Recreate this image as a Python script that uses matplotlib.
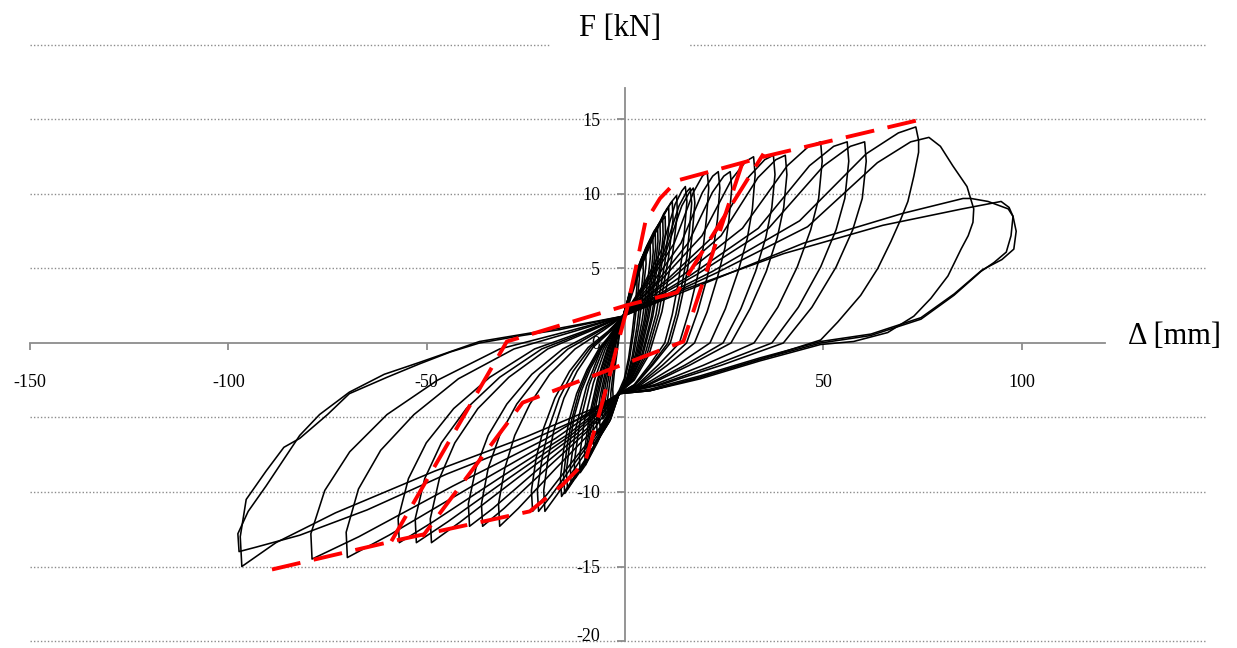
import matplotlib
matplotlib.use("Agg")
import matplotlib.pyplot as plt
from matplotlib.transforms import ScaledTranslation

plt.rcParams['font.family'] = ['Liberation Serif', 'DejaVu Serif']
plt.rcParams['axes.unicode_minus'] = False

# ---- axis ticks ----
x_ticks = [-150, -100, -50, 50, 100]
y_ticks = [20, 15, 10, 5, 0, -5, -10, -15, -20]
y_tick_labels = ['', '15', '10', '5', '0', '-5', '-10', '-15', '-20']

# ---- hysteresis cycles (displacement mm, force kN) ----
loop_s1 = [(-0.5, 1.8), (0.8, 3.0), (1.9, 3.9), (2.6, 4.3), (3.0, 4.5), (3.0, 3.8), (2.6, 2.6), (1.8, 0.7),
           (0.9, -1.0), (-0.2, -2.4), (-1.5, -3.2), (-2.2, -3.5), (-2.7, -3.6), (-3.0, -3.7), (-3.1, -3.1),
           (-2.7, -2.0), (-2.1, -0.8), (-1.5, 0.4), (-0.9, 1.2), (-0.5, 1.8)]
loop_s2 = [(-0.5, 1.8), (1.2, 3.4), (2.8, 4.7), (4.0, 5.4), (4.5, 5.6), (4.6, 4.8), (4.0, 3.3), (3.0, 1.1),
           (1.8, -0.9), (0.4, -2.4), (-1.5, -3.4), (-2.6, -3.9), (-3.5, -4.2), (-4.0, -4.4), (-4.3, -4.5),
           (-4.4, -3.8), (-3.8, -2.5), (-3.0, -1.1), (-2.1, 0.2), (-1.2, 1.1), (-0.5, 1.8)]
loop_s3 = [(-0.5, 1.8), (1.8, 3.9), (4.0, 5.6), (5.6, 6.5), (6.3, 6.8), (6.4, 5.8), (5.7, 4.1), (4.3, 1.5),
           (2.6, -0.8), (0.7, -2.4), (-1.5, -3.4), (-2.9, -4.1), (-4.3, -4.6), (-5.1, -4.9), (-5.6, -5.1),
           (-5.8, -4.4), (-5.0, -2.9), (-3.9, -1.4), (-2.6, 0.0), (-1.4, 1.0), (-0.5, 1.8)]
loop_s4 = [(-0.5, 1.8), (2.2, 4.1), (4.8, 6.0), (6.8, 7.1), (7.6, 7.4), (7.7, 6.4), (6.9, 4.5), (5.2, 1.6),
           (3.2, -0.8), (1.0, -2.4), (-1.5, -3.4), (-3.2, -4.3), (-5.2, -5.4), (-6.4, -5.9), (-7.0, -6.1),
           (-7.2, -5.3), (-6.3, -3.6), (-4.9, -1.8), (-3.2, -0.2), (-1.7, 1.0), (-0.5, 1.8)]
loop_s5 = [(-0.5, 1.8), (2.5, 4.4), (5.5, 6.5), (7.8, 7.7), (8.8, 8.1), (8.9, 7.0), (8.0, 4.9), (6.0, 1.7),
           (3.8, -0.8), (1.2, -2.5), (-1.5, -3.4), (-3.6, -4.7), (-6.2, -6.2), (-7.9, -7.0), (-8.8, -7.4),
           (-9.0, -6.5), (-7.9, -4.4), (-6.1, -2.3), (-4.0, -0.4), (-2.0, 1.0), (-0.5, 1.8)]
loop_s6 = [(-0.5, 1.8), (3.0, 4.6), (6.5, 6.8), (9.0, 8.1), (10.1, 8.5), (10.2, 7.4), (9.2, 5.2), (7.0, 1.8),
           (4.5, -0.8), (1.5, -2.5), (-1.5, -3.4), (-4.0, -5.0), (-7.0, -6.7), (-9.0, -7.7), (-10.0, -8.2),
           (-10.2, -7.2), (-9.0, -4.9), (-7.0, -2.5), (-4.5, -0.4), (-2.2, 1.0), (-0.5, 1.8)]
loop_s7 = [(-0.5, 1.8), (3.5, 4.8), (7.5, 7.4), (10.5, 9.0), (11.9, 9.5), (12.1, 8.3), (11.0, 5.8), (8.5, 2.0),
           (5.5, -0.8), (2.0, -2.5), (-1.5, -3.4), (-4.5, -5.2), (-8.5, -7.3), (-11.0, -8.5), (-12.6, -9.1),
           (-12.8, -8.0), (-11.5, -5.5), (-9.0, -2.8), (-5.5, -0.4), (-2.5, 1.0), (-0.5, 1.8)]
loop_s8 = [(-0.3, 1.6), (1.0, 3.3), (2.3, 4.4), (3.1, 4.9), (3.6, 5.1), (3.6, 4.3), (3.1, 2.9), (2.2, 0.8),
           (1.1, -1.1), (-0.1, -2.5), (-1.3, -3.3), (-2.4, -3.8), (-3.0, -4.0), (-3.5, -4.1), (-3.6, -3.4),
           (-3.1, -2.2), (-2.4, -0.9), (-1.6, 0.4), (-0.9, 1.1), (-0.3, 1.6)]
loop_s9 = [(-0.3, 1.6), (1.5, 3.7), (3.3, 5.1), (4.6, 5.9), (5.2, 6.2), (5.3, 5.3), (4.6, 3.6), (3.5, 1.2),
           (2.1, -0.9), (0.5, -2.4), (-1.3, -3.3), (-2.8, -4.1), (-3.9, -4.5), (-4.6, -4.7), (-5.0, -4.8),
           (-5.1, -4.1), (-4.4, -2.7), (-3.4, -1.2), (-2.3, 0.1), (-1.2, 1.0), (-0.3, 1.6)]
loop_s10 = [(-0.3, 1.6), (2.0, 4.0), (4.4, 5.8), (6.2, 6.8), (7.0, 7.1), (7.1, 6.1), (6.4, 4.3), (4.8, 1.5),
            (2.9, -0.8), (0.8, -2.4), (-1.3, -3.3), (-3.1, -4.2), (-4.8, -5.0), (-5.8, -5.4), (-6.3, -5.6),
            (-6.5, -4.9), (-5.7, -3.3), (-4.4, -1.6), (-2.9, -0.1), (-1.5, 1.0), (-0.3, 1.6)]
loop_s11 = [(-0.3, 1.6), (2.4, 4.3), (5.1, 6.3), (7.3, 7.5), (8.2, 7.8), (8.3, 6.8), (7.5, 4.7), (5.6, 1.6),
            (3.5, -0.8), (1.1, -2.4), (-1.3, -3.3), (-3.4, -4.5), (-5.6, -5.8), (-7.2, -6.5), (-8.0, -6.8),
            (-8.2, -6.0), (-7.2, -4.0), (-5.6, -2.1), (-3.6, -0.3), (-1.8, 1.0), (-0.3, 1.6)]
loop_s12 = [(-0.3, 1.6), (2.8, 4.5), (6.0, 6.7), (8.5, 8.0), (9.5, 8.3), (9.6, 7.2), (8.7, 5.0), (6.6, 1.7),
            (4.2, -0.8), (1.4, -2.5), (-1.3, -3.3), (-3.8, -4.8), (-6.6, -6.4), (-8.5, -7.4), (-9.4, -7.8),
            (-9.6, -6.9), (-8.5, -4.7), (-6.6, -2.4), (-4.3, -0.4), (-2.1, 1.0), (-0.3, 1.6)]
loop_s13 = [(-0.3, 1.6), (3.2, 4.7), (7.0, 7.1), (9.8, 8.7), (11.0, 9.1), (11.1, 8.0), (10.1, 5.5), (7.8, 1.9),
            (5.0, -0.8), (1.8, -2.5), (-1.3, -3.3), (-4.2, -5.1), (-7.8, -7.0), (-10.0, -8.2), (-11.3, -8.7),
            (-11.5, -7.7), (-10.3, -5.3), (-8.0, -2.7), (-5.0, -0.4), (-2.3, 1.0), (-0.3, 1.6)]
loop_s14 = [(-0.3, 1.6), (3.9, 5.0), (8.2, 7.8), (11.5, 9.4), (13.0, 9.9), (13.2, 8.7), (12.0, 6.0), (9.3, 2.1),
            (6.0, -0.8), (2.3, -2.5), (-1.3, -3.3), (-4.8, -5.4), (-9.2, -7.6), (-12.0, -8.8), (-13.6, -9.4),
            (-13.8, -8.3), (-12.4, -5.7), (-9.7, -2.9), (-6.0, -0.4), (-2.7, 1.0), (-0.3, 1.6)]

loop_c01 = [(-0.5, 1.8), (4.6, 3.9), (9.1, 6.2), (12.6, 9.3), (14.3, 10.2), (15.2, 10.5),
            (15.6, 9.5), (15.0, 7.6), (14.4, 5.9), (13.4, 4.0), (11.9, 1.9), (10.0, 0.0), (6.1, -1.5), (2.3, -2.8),
            (-1.5, -3.4), (-3.6, -5.1), (-8.0, -7.0), (-12.3, -8.9), (-14.5, -9.8),
            (-14.8, -8.6), (-13.9, -6.7), (-12.8, -4.9), (-11.0, -3.2), (-8.7, -1.7), (-5.8, -0.3), (-2.6, 0.8), (-0.5, 1.8)]
loop_c02 = [(-0.5, 1.8), (4.9, 3.9), (9.8, 6.1), (13.6, 9.2), (15.4, 10.1), (16.4, 10.4),
            (16.8, 9.4), (16.2, 7.5), (15.6, 5.8), (14.4, 4.0), (12.8, 1.9), (10.8, 0.0), (6.6, -1.5), (2.5, -2.8),
            (-1.5, -3.4), (-3.8, -5.2), (-8.4, -7.2), (-12.9, -9.2), (-15.2, -10.1),
            (-15.5, -8.9), (-14.6, -6.9), (-13.4, -5.1), (-11.6, -3.3), (-9.1, -1.7), (-6.1, -0.3), (-2.7, 0.8), (-0.5, 1.8)]
loop_c03 = [(-0.5, 1.8), (5.2, 3.9), (10.3, 6.1), (14.3, 9.2), (16.2, 10.1), (17.2, 10.4),
            (17.6, 9.4), (17.0, 7.5), (16.3, 5.8), (15.1, 4.0), (13.4, 1.9), (11.4, 0.0), (6.9, -1.5), (2.6, -2.8),
            (-1.5, -3.4), (-4.0, -5.3), (-8.8, -7.3), (-13.6, -9.3), (-16.0, -10.3),
            (-16.3, -9.1), (-15.4, -7.0), (-14.1, -5.2), (-12.2, -3.4), (-9.6, -1.8), (-6.4, -0.3), (-2.9, 0.8), (-0.5, 1.8)]
loop_c04 = [(-0.5, 1.8), (6.2, 4.1), (12.4, 6.7), (17.2, 10.1), (19.5, 11.2), (20.7, 11.5),
            (21.1, 10.4), (20.5, 8.3), (19.7, 6.4), (18.2, 4.4), (16.1, 2.1), (13.7, 0.0), (8.3, -1.5), (3.1, -2.8),
            (-1.5, -3.4), (-5.1, -5.5), (-11.1, -7.8), (-17.2, -10.2), (-20.2, -11.3),
            (-20.5, -9.9), (-19.4, -7.7), (-17.8, -5.7), (-15.4, -3.7), (-12.1, -1.9), (-8.1, -0.3), (-3.6, 0.8), (-0.5, 1.8)]
loop_c05 = [(-0.5, 1.8), (7.1, 4.1), (14.1, 6.7), (19.5, 10.1), (22.1, 11.2), (23.5, 11.5),
            (23.9, 10.4), (23.3, 8.3), (22.3, 6.4), (20.7, 4.4), (18.3, 2.1), (15.5, 0.0), (9.4, -1.5), (3.5, -2.8),
            (-1.5, -3.4), (-5.5, -5.5), (-12.0, -7.8), (-18.5, -10.2), (-21.8, -11.3),
            (-22.1, -9.9), (-20.9, -7.7), (-19.2, -5.7), (-16.6, -3.7), (-13.1, -1.9), (-8.7, -0.3), (-3.9, 0.8), (-0.5, 1.8)]
loop_c06 = [(-0.5, 1.8), (8.0, 4.1), (15.9, 6.7), (22.0, 10.1), (24.9, 11.2), (26.5, 11.5),
            (26.9, 10.4), (26.2, 8.3), (25.2, 6.4), (23.3, 4.4), (20.7, 2.1), (17.5, 0.0), (10.6, -1.5), (4.0, -2.8),
            (-1.5, -3.4), (-5.8, -5.5), (-12.8, -7.8), (-19.8, -10.2), (-23.3, -11.3),
            (-23.6, -9.9), (-22.4, -7.7), (-20.5, -5.7), (-17.7, -3.7), (-14.0, -1.9), (-9.3, -0.3), (-4.2, 0.8), (-0.5, 1.8)]
loop_c07 = [(-0.5, 1.8), (9.7, 4.4), (19.4, 7.2), (26.9, 11.0), (30.5, 12.2), (32.4, 12.5),
            (32.8, 11.3), (32.1, 9.0), (30.8, 7.0), (28.5, 4.8), (25.3, 2.3), (21.4, 0.0), (13.0, -1.5), (4.9, -2.8),
            (-1.5, -3.4), (-7.9, -5.8), (-17.4, -8.4), (-26.9, -11.1), (-31.6, -12.3),
            (-31.9, -10.8), (-30.3, -8.4), (-27.8, -6.2), (-24.0, -4.1), (-19.0, -2.1), (-12.6, -0.4), (-5.7, 0.8), (-0.5, 1.8)]
loop_c08 = [(-0.5, 1.8), (11.2, 4.4), (22.4, 7.2), (31.0, 11.1), (35.2, 12.3), (37.4, 12.6),
            (37.8, 11.3), (37.0, 9.1), (35.5, 7.1), (32.9, 4.8), (29.2, 2.3), (24.7, 0.0), (15.0, -1.5), (5.6, -2.8),
            (-1.5, -3.4), (-9.0, -5.8), (-19.7, -8.4), (-30.5, -11.1), (-35.9, -12.3),
            (-36.2, -10.8), (-34.5, -8.4), (-31.6, -6.2), (-27.3, -4.1), (-21.5, -2.1), (-14.4, -0.4), (-6.5, 0.8), (-0.5, 1.8)]
loop_c09 = [(-0.5, 1.8), (12.1, 4.4), (24.2, 7.2), (33.5, 11.1), (38.0, 12.3), (40.4, 12.6),
            (40.8, 11.3), (40.0, 9.1), (38.4, 7.1), (35.6, 4.8), (31.5, 2.3), (26.7, 0.0), (16.2, -1.5), (6.1, -2.8),
            (-1.5, -3.4), (-9.8, -5.8), (-21.6, -8.4), (-33.3, -11.1), (-39.2, -12.3),
            (-39.5, -10.8), (-37.6, -8.4), (-34.5, -6.2), (-29.8, -4.1), (-23.5, -2.1), (-15.7, -0.4), (-7.1, 0.8), (-0.5, 1.8)]
loop_c10 = [(-0.5, 1.8), (14.8, 4.6), (29.6, 7.7), (40.9, 11.9), (46.3, 13.2), (49.3, 13.5),
            (49.7, 12.2), (48.8, 9.7), (46.8, 7.6), (43.4, 5.1), (38.5, 2.4), (32.5, 0.0), (19.7, -1.5), (7.4, -2.8),
            (-1.5, -3.4), (-12.2, -6.1), (-26.8, -9.0), (-41.5, -12.0), (-48.8, -13.4),
            (-49.1, -11.8), (-46.8, -9.1), (-42.9, -6.7), (-37.1, -4.4), (-29.3, -2.3), (-19.5, -0.4), (-8.8, 0.8), (-0.5, 1.8)]
loop_c11 = [(-0.5, 1.8), (16.8, 4.6), (33.6, 7.7), (46.5, 11.9), (52.6, 13.2), (56.0, 13.5),
            (56.4, 12.2), (55.4, 9.7), (53.2, 7.6), (49.3, 5.1), (43.7, 2.4), (37.0, 0.0), (22.4, -1.5), (8.4, -2.8),
            (-1.5, -3.4), (-13.2, -6.1), (-28.9, -9.0), (-44.7, -12.0), (-52.6, -13.4),
            (-52.9, -11.8), (-50.5, -9.1), (-46.3, -6.7), (-40.0, -4.4), (-31.6, -2.3), (-21.0, -0.4), (-9.5, 0.8), (-0.5, 1.8)]
loop_c12 = [(-0.5, 1.8), (18.1, 4.6), (36.2, 7.7), (50.1, 11.9), (56.8, 13.2), (60.4, 13.5),
            (60.8, 12.2), (59.8, 9.7), (57.4, 7.6), (53.2, 5.1), (47.1, 2.4), (39.9, 0.0), (24.2, -1.5), (9.1, -2.8),
            (-1.5, -3.4), (-14.2, -6.1), (-31.3, -9.0), (-48.4, -12.0), (-56.9, -13.4),
            (-57.2, -11.8), (-54.6, -9.1), (-50.1, -6.7), (-43.2, -4.4), (-34.1, -2.3), (-22.8, -0.4), (-10.2, 0.8), (-0.5, 1.8)]
loop_c13 = [(-0.5, 1.8), (22.0, 4.8), (44.0, 8.2), (60.8, 12.7), (68.9, 14.1), (73.3, 14.5),
            (74.0, 13.6), (74.0, 12.8), (72.8, 11.2), (71.3, 9.5), (69.5, 8.3), (67.0, 6.8), (63.7, 5.0), (59.4, 3.2),
            (53.6, 1.4), (49.3, 0.2), (34.0, -1.1), (19.0, -2.3), (6.3, -3.2),
            (-1.5, -3.4), (-17.5, -6.4), (-38.5, -9.6), (-59.5, -12.9), (-70.0, -14.4),
            (-70.3, -12.7), (-67.2, -9.8), (-61.6, -7.2), (-53.2, -4.8), (-42.0, -2.4), (-28.0, -0.4), (-12.6, 0.8), (-0.5, 1.8)]
loop_c14 = [(-0.5, 1.8), (23.0, 4.7), (46.0, 7.8), (63.6, 12.1), (72.0, 13.5), (76.6, 13.8),
            (79.5, 13.2), (82.6, 11.9), (86.2, 10.5), (87.9, 9.0),
            (87.7, 8.1), (86.5, 7.2), (84.7, 6.3), (81.4, 4.5), (77.1, 3.0), (72.8, 1.8), (66.2, 0.7), (57.6, 0.1),
            (49.3, -0.1), (34.0, -1.2), (19.0, -2.4), (6.3, -3.2),
            (-1.5, -3.4), (-19.7, -6.4), (-43.4, -9.6), (-67.1, -13.0), (-78.9, -14.5),
            (-79.2, -12.8), (-75.7, -9.9), (-69.4, -7.3), (-60.0, -4.8), (-47.3, -2.5), (-31.6, -0.4), (-14.2, 0.8), (-0.5, 1.8)]
loop_c15 = [(-0.5, 1.8), (20.0, 4.0), (45.0, 6.7), (70.0, 8.7), (85.2, 9.7),
            (87.2, 9.7), (91.5, 9.5), (96.6, 9.0), (97.8, 8.5), (97.3, 7.2), (96.1, 6.1), (93.0, 5.4), (89.7, 4.8),
            (82.9, 3.2), (74.6, 1.6), (61.9, 0.5), (49.3, 0.0), (34.0, -1.1), (19.0, -2.3), (6.3, -3.2),
            (-1.5, -3.4), (-8.0, -4.4), (-25.0, -6.3), (-48.0, -8.6), (-73.0, -11.4), (-88.0, -13.4), (-96.6, -15.0),
            (-97.0, -13.0), (-95.5, -10.5), (-90.5, -8.6), (-86.0, -7.0), (-82.0, -6.4), (-75.0, -4.8), (-69.5, -3.4),
            (-60.0, -2.3), (-51.8, -1.4), (-44.0, -0.6), (-36.7, 0.0), (-26.0, 0.5), (-16.4, 0.9), (-0.5, 1.8)]
loop_c16 = [(-0.5, 1.8), (15.0, 3.6), (40.0, 6.0), (65.0, 7.9), (85.0, 9.0), (94.8, 9.5), (96.8, 9.1),
            (97.8, 8.5), (98.6, 7.5), (98.0, 6.3), (95.0, 5.6), (90.0, 4.9), (83.0, 3.3), (74.6, 1.7), (62.0, 0.6),
            (49.3, 0.1), (34.0, -1.0), (19.0, -2.2), (6.3, -3.1),
            (-1.5, -3.4), (-10.0, -4.9), (-27.0, -6.9), (-45.0, -8.8), (-65.0, -11.2), (-82.0, -12.9), (-93.0, -13.7),
            (-97.3, -14.0),
            (-97.6, -12.8), (-95.0, -11.3), (-90.5, -9.6), (-86.0, -7.8), (-82.0, -6.2), (-77.0, -4.8), (-69.5, -3.3),
            (-60.7, -2.1), (-51.8, -1.3), (-36.7, 0.1), (-16.4, 1.0), (-0.5, 1.8)]

cycles = [loop_s1, loop_s8, loop_s2, loop_s9, loop_s3, loop_s10, loop_s4, loop_s11, loop_s5, loop_s12,
          loop_s6, loop_s13, loop_s7, loop_s14,
          loop_c01, loop_c02, loop_c03, loop_c04, loop_c05, loop_c06, loop_c07, loop_c08,
          loop_c09, loop_c10, loop_c11, loop_c12, loop_c13, loop_c14, loop_c15, loop_c16]

# ---- envelope (skeleton) curve and degraded branches ----
skeleton = [(-89.0, -15.2), (-56.9, -13.2), (-24.0, -11.3), (-15.7, -9.5), (-10.1, -8.0), (-7.1, -5.3),
            (-4.6, -2.9), (-2.0, -0.2), (0.5, 2.3), (3.0, 5.4), (5.1, 8.1), (8.8, 9.7), (13.1, 10.9),
            (29.6, 12.1), (34.9, 12.5), (74.6, 15.0)]
branch_pos = [(-58.9, -13.3), (-29.8, 0.1), (0.0, 2.5), (13.1, 3.4), (34.9, 12.7)]
branch_neg = [(29.6, 12.1), (14.7, 0.1), (-25.8, -4.0), (-51.1, -13.0)]

W, H = 1237, 648
fig = plt.figure(figsize=(W / 100, H / 100), dpi=100)
ax = fig.add_axes([30 / W, 1 - 641 / H, (1207 - 30) / W, (641 - 45) / H])
ax.set_xlim(-150, 146.7)
ax.set_ylim(-20, 20)

grid_kw = dict(color='#8c8c8c', linestyle=(0, (1, 1.5)), linewidth=1.0, zorder=1, clip_on=False)
for yv in y_ticks:
    if yv != 0:
        ax.axhline(yv, **grid_kw)

for loop in cycles:
    xs = [p[0] for p in loop]
    ys = [p[1] for p in loop]
    ax.plot(xs, ys, color='black', linewidth=1.15, zorder=3,
            solid_joinstyle='round', solid_capstyle='round')

dash_kw = dict(color='#ff0000', linewidth=2.8, linestyle=(0, (7.5, 3.5)), zorder=4, dash_capstyle='butt')
for path in (skeleton, branch_pos, branch_neg):
    ax.plot([p[0] for p in path], [p[1] for p in path], **dash_kw)

for side in ('top', 'right'):
    ax.spines[side].set_visible(False)
ax.spines['left'].set_position(('data', 0))
ax.spines['bottom'].set_position(('data', 0))
for side in ('left', 'bottom'):
    ax.spines[side].set_color('#8c8c8c')
    ax.spines[side].set_linewidth(1.3)
    ax.spines[side].set_zorder(2)
ax.spines['left'].set_bounds(-20, 17.1)
ax.spines['bottom'].set_bounds(-150, 121)

ax.set_xticks(x_ticks)
ax.set_xticklabels([str(v) for v in x_ticks])
ax.set_yticks(y_ticks)
ax.set_yticklabels(y_tick_labels)
ax.tick_params(axis='x', direction='out', length=5, width=1.3, color='#8c8c8c', pad=17, labelsize=13)
ax.tick_params(axis='y', direction='out', length=6, width=1.3, color='#8c8c8c', pad=12, labelsize=13)

# lift the lowest force label so it stays inside the figure
for lbl in ax.get_yticklabels():
    if lbl.get_text() == '-20':
        lbl.set_transform(lbl.get_transform() + ScaledTranslation(0, 5 / 72, fig.dpi_scale_trans))

fig.text(620 / W, 1 - 28 / H, 'F [kN]', ha='center', va='center', fontsize=22, zorder=10,
         bbox=dict(facecolor='white', edgecolor='none', boxstyle='square,pad=0.95'))
fig.text(1175 / W, 1 - 337 / H, '\u0394 [mm]', ha='center', va='center', fontsize=22, zorder=10,
         bbox=dict(facecolor='white', edgecolor='none', boxstyle='square,pad=0.3'))

fig.savefig('out.png', dpi=100, facecolor='white')
